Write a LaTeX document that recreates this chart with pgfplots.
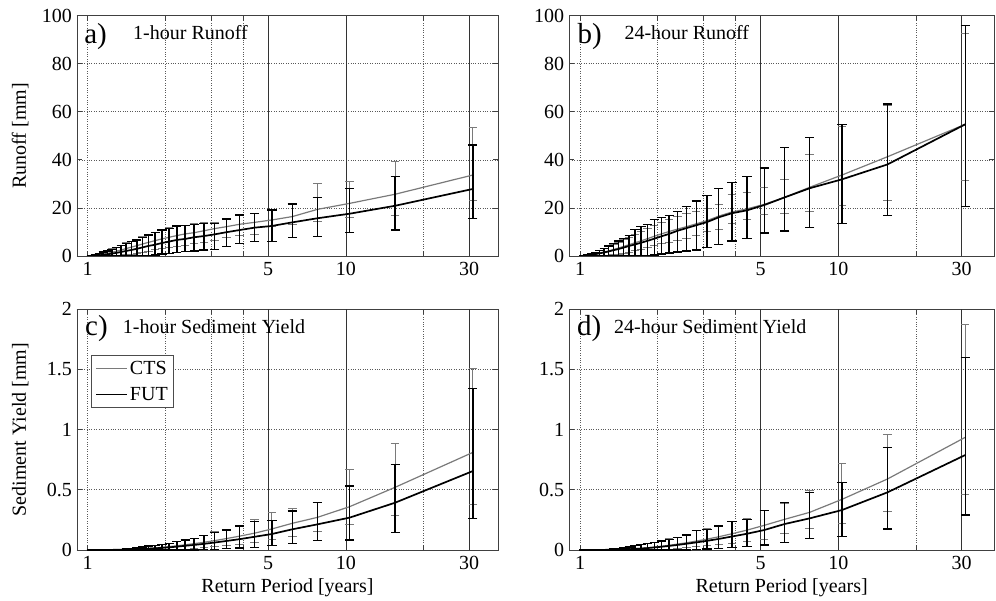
\documentclass[border=0pt]{standalone}
\usepackage{fontspec}
\setmainfont{Liberation Serif}
\usepackage{pgfplots}
\pgfplotsset{compat=1.18}
\usepackage{pgfplotstable}

% columns: x (return period), y (value), lo, hi (error bar limits)
\pgfplotstableread{
x y lo hi
31 33.7 23.0 53.4
15.5 25.7 16.8 39.5
10.333 21.9 15.9 30.8
7.75 19.4 14.3 30.0
6.2 16.4 12.9 21.5
5.167 15.0 12.2 19.4
4.429 14.0 9.0 17.8
3.875 13.2 8.5 17.3
3.444 12.2 7.5 15.8
3.1 11.4 6.5 14.0
2.818 10.5 5.5 13.8
2.583 9.7 5.0 13.4
2.385 9.2 4.5 12.8
2.214 8.5 4.0 12.6
2.067 7.8 3.5 11.7
1.938 7.1 3.0 11.0
1.824 6.4 2.5 9.9
1.722 5.7 2.0 8.9
1.632 5.0 1.5 8.0
1.55 4.3 1.0 7.0
1.476 3.7 0.8 6.2
1.409 3.1 0.5 5.5
1.348 2.5 0.3 4.5
1.292 2.0 0.2 3.7
1.24 1.5 0.1 3.0
1.192 1.1 0 2.3
1.148 0.8 0 1.7
1.107 0.5 0 1.2
1.069 0.3 0 0.8
1.033 0.1 0 0.4
}\aCTS
\pgfplotstableread{
x y lo hi
31 27.9 15.7 46.2
15.5 20.9 10.8 33.2
10.333 17.6 9.7 28.0
7.75 15.7 8.2 24.4
6.2 14.0 7.6 21.6
5.167 12.5 6.0 19.2
4.429 11.8 6.0 17.6
3.875 10.8 5.1 17.1
3.444 9.9 3.9 15.4
3.1 9.0 2.8 13.6
2.818 8.3 2.5 13.6
2.583 7.8 2.1 13.2
2.385 7.1 1.8 12.6
2.214 6.7 1.4 12.5
2.067 6.0 1.1 11.5
1.938 5.4 0.8 10.8
1.824 4.7 0.4 9.7
1.722 4.2 0.2 8.7
1.632 3.6 0 7.8
1.55 3.0 0 6.7
1.476 2.5 0 6.0
1.409 2.1 0 5.3
1.348 1.7 0 4.3
1.292 1.3 0 3.5
1.24 1.0 0 2.8
1.192 0.7 0 2.1
1.148 0.5 0 1.6
1.107 0.3 0 1.1
1.069 0.2 0 0.7
1.033 0.1 0 0.3
}\aFUT
\pgfplotstableread{
x y lo hi
31 54.8 31.3 92.4
15.5 41.3 23.0 62.8
10.333 33.7 21.2 53.8
7.75 28.6 18.4 42.3
6.2 24.4 17.5 31.9
5.167 21.5 17.2 28.4
4.429 19.6 15.3 26.6
3.875 18.3 13.6 25.7
3.444 16.6 11.1 21.6
3.1 14.7 10.0 19.8
2.818 13.4 8.5 18.7
2.583 12.2 7.4 17.5
2.385 11.2 6.5 16.5
2.214 10.2 5.8 15.0
2.067 9.2 5.0 13.8
1.938 8.2 4.2 12.6
1.824 7.2 3.5 11.4
1.722 6.3 2.8 10.2
1.632 5.5 2.2 9.0
1.55 4.7 1.6 7.8
1.476 4.0 1.2 6.8
1.409 3.3 0.8 5.8
1.348 2.7 0.5 4.8
1.292 2.1 0.3 3.9
1.24 1.6 0.2 3.0
1.192 1.2 0.1 2.2
1.148 0.8 0 1.6
1.107 0.5 0 1.0
1.069 0.3 0 0.6
1.033 0.1 0 0.3
}\bCTS
\pgfplotstableread{
x y lo hi
31 54.8 20.5 95.8
15.5 38.1 16.8 63.3
10.333 31.9 13.5 54.8
7.75 28.2 11.8 49.2
6.2 24.4 10.4 45.2
5.167 21.2 9.6 36.6
4.429 19.0 7.4 33.2
3.875 17.8 6.2 30.5
3.444 16.1 4.8 28.2
3.1 14.1 3.6 25.2
2.818 12.8 2.5 22.9
2.583 11.6 2.0 20.5
2.385 10.5 1.6 18.5
2.214 9.2 1.2 16.9
2.067 8.2 0.8 16.1
1.938 7.2 0.4 15.3
1.824 6.3 0.1 13.2
1.722 5.5 0 12.2
1.632 4.8 0 11.1
1.55 4.2 0 8.5
1.476 3.5 0 7.4
1.409 2.9 0 6.2
1.348 2.4 0 5.3
1.292 1.9 0 4.2
1.24 1.5 0 3.2
1.192 1.1 0 2.2
1.148 0.8 0 1.5
1.107 0.5 0 1.0
1.069 0.3 0 0.6
1.033 0.1 0 0.3
}\bFUT
\pgfplotstableread{
x y lo hi
31 0.811 0.380 1.504
15.5 0.521 0.285 0.886
10.333 0.360 0.208 0.670
7.75 0.271 0.152 0.396
6.2 0.222 0.111 0.346
5.167 0.175 0.089 0.310
4.429 0.140 0.060 0.250
3.875 0.115 0.045 0.205
3.444 0.095 0.035 0.170
3.1 0.078 0.025 0.150
2.818 0.064 0.018 0.122
2.583 0.053 0.012 0.098
2.385 0.043 0.008 0.086
2.214 0.035 0.005 0.071
2.067 0.028 0.003 0.057
1.938 0.022 0 0.048
1.824 0.017 0 0.040
1.722 0.013 0 0.034
1.632 0.010 0 0.027
1.55 0.008 0 0.019
1.476 0.006 0 0.014
1.409 0.004 0 0.010
1.348 0.003 0 0.007
1.292 0.002 0 0.005
1.24 0.001 0 0.003
1.192 0.001 0 0.002
1.148 0.0005 0 0.001
1.107 0.0003 0 0.001
1.069 0.0002 0 0.0005
1.033 0.0001 0 0.0002
}\cCTS
\pgfplotstableread{
x y lo hi
31 0.656 0.263 1.343
15.5 0.393 0.144 0.712
10.333 0.269 0.083 0.532
7.75 0.213 0.080 0.396
6.2 0.172 0.055 0.324
5.167 0.133 0.036 0.247
4.429 0.110 0.022 0.235
3.875 0.090 0.015 0.200
3.444 0.075 0.010 0.166
3.1 0.062 0.006 0.147
2.818 0.051 0.004 0.119
2.583 0.042 0 0.094
2.385 0.035 0 0.083
2.214 0.028 0 0.069
2.067 0.022 0 0.055
1.938 0.018 0 0.047
1.824 0.014 0 0.039
1.722 0.011 0 0.033
1.632 0.008 0 0.026
1.55 0.006 0 0.018
1.476 0.005 0 0.013
1.409 0.004 0 0.009
1.348 0.003 0 0.006
1.292 0.002 0 0.004
1.24 0.001 0 0.003
1.192 0.001 0 0.002
1.148 0.0005 0 0.001
1.107 0.0003 0 0.001
1.069 0.0002 0 0.0005
1.033 0.0001 0 0.0002
}\cFUT
\pgfplotstableread{
x y lo hi
31 0.936 0.463 1.870
15.5 0.590 0.316 0.956
10.333 0.421 0.222 0.715
7.75 0.313 0.180 0.493
6.2 0.255 0.139 0.388
5.167 0.205 0.089 0.332
4.429 0.165 0.070 0.260
3.875 0.135 0.055 0.240
3.444 0.110 0.045 0.205
3.1 0.090 0.035 0.178
2.818 0.074 0.025 0.165
2.583 0.060 0.018 0.130
2.385 0.049 0.012 0.106
2.214 0.039 0.008 0.092
2.067 0.031 0.005 0.078
1.938 0.024 0.003 0.064
1.824 0.018 0 0.057
1.722 0.014 0 0.049
1.632 0.010 0 0.038
1.55 0.008 0 0.027
1.476 0.006 0 0.018
1.409 0.004 0 0.013
1.348 0.003 0 0.009
1.292 0.002 0 0.006
1.24 0.001 0 0.004
1.192 0.001 0 0.002
1.148 0.0005 0 0.001
1.107 0.0003 0 0.001
1.069 0.0002 0 0.0005
1.033 0.0001 0 0.0002
}\dCTS
\pgfplotstableread{
x y lo hi
31 0.789 0.291 1.598
15.5 0.479 0.174 0.850
10.333 0.332 0.111 0.559
7.75 0.263 0.094 0.476
6.2 0.216 0.061 0.393
5.167 0.166 0.042 0.327
4.429 0.135 0.030 0.255
3.875 0.112 0.020 0.235
3.444 0.092 0.012 0.199
3.1 0.076 0.008 0.172
2.818 0.063 0.005 0.160
2.583 0.052 0 0.125
2.385 0.042 0 0.102
2.214 0.034 0 0.089
2.067 0.027 0 0.075
1.938 0.021 0 0.061
1.824 0.016 0 0.055
1.722 0.012 0 0.047
1.632 0.009 0 0.036
1.55 0.007 0 0.025
1.476 0.005 0 0.017
1.409 0.004 0 0.012
1.348 0.003 0 0.008
1.292 0.002 0 0.005
1.24 0.001 0 0.003
1.192 0.001 0 0.002
1.148 0.0005 0 0.001
1.107 0.0003 0 0.001
1.069 0.0002 0 0.0005
1.033 0.0001 0 0.0002
}\dFUT

\newcommand{\fnt}{\fontsize{20}{24}\selectfont}
\newcommand{\bigfnt}{\fontsize{29}{32}\selectfont}

\pgfplotsset{
 every axis/.append style={
  scale only axis,
  xmin=0.909,
  xtick={1,2,3,4,5,10,20,30},
  xticklabels={1,,,,5,10,,30},
  grid=major,
  major grid style={dotted, black!65, line width=0.7pt},
  tick align=inside,
  major tick length=5pt,
  axis line style={black!75, line width=0.8pt},
  every tick/.style={black!75, line width=0.8pt},
  tick label style={font=\fnt, inner sep=0pt},
  xticklabel style={yshift=-6pt},
  yticklabel style={xshift=-5pt},
  label style={font=\fnt},
 },
 ctsS/.style={black!52, line width=1.2pt, mark=none,
   error bars/.cd, y dir=both, y explicit,
   error bar style={black!52, line width=1.0pt},
   error mark options={rotate=90, black!52, mark size=4.2pt, line width=1.0pt}},
 futS/.style={black, line width=1.7pt, mark=none,
   error bars/.cd, y dir=both, y explicit,
   error bar style={black, line width=1.4pt},
   error mark options={rotate=90, black, mark size=4.6pt, line width=1.4pt}},
 vlineS/.style={black!80, line width=0.8pt, forget plot},
}

\begin{document}
\begin{tikzpicture}
\fill[white] (0pt,0pt) rectangle (996pt,600pt);
\useasboundingbox (0pt,0pt) rectangle (996pt,600pt);

% a)
\begin{semilogxaxis}[at={(77pt,344pt)}, anchor=south west,
  width=421pt, height=240.3pt, xmax=38.8,
  ymin=0, ymax=100, ytick={0,20,40,60,80,100}, yticklabels={0,20,40,60,80,100},
  ylabel={Runoff [mm]}, ylabel style={at={(axis description cs:-0.135,0.5)}, anchor=center}]
\addplot[vlineS] coordinates {(5,0) (5,100)};
\addplot[vlineS] coordinates {(10,0) (10,100)};
\addplot[vlineS] coordinates {(30,0) (30,100)};
\addplot[ctsS] table[x=x, y=y, y error plus expr=\thisrow{hi}-\thisrow{y}, y error minus expr=\thisrow{y}-\thisrow{lo}] {\aCTS};
\addplot[futS] table[x=x, y=y, y error plus expr=\thisrow{hi}-\thisrow{y}, y error minus expr=\thisrow{y}-\thisrow{lo}] {\aFUT};
\node[anchor=base west, font=\bigfnt, inner sep=0pt] at (rel axis cs:0.017,0.886) {a)};
\node[anchor=base west, font=\fnt, inner sep=0pt] at (rel axis cs:0.133,0.899) {1-hour Runoff};
\end{semilogxaxis}

% b)
\begin{semilogxaxis}[at={(569.3pt,344pt)}, anchor=south west,
  width=424.7pt, height=240.3pt, xmax=40.07,
  ymin=0, ymax=100, ytick={0,20,40,60,80,100}, yticklabels={0,20,40,60,80,100}]
\addplot[vlineS] coordinates {(5,0) (5,100)};
\addplot[vlineS] coordinates {(10,0) (10,100)};
\addplot[vlineS] coordinates {(30,0) (30,100)};
\addplot[ctsS] table[x=x, y=y, y error plus expr=\thisrow{hi}-\thisrow{y}, y error minus expr=\thisrow{y}-\thisrow{lo}] {\bCTS};
\addplot[futS] table[x=x, y=y, y error plus expr=\thisrow{hi}-\thisrow{y}, y error minus expr=\thisrow{y}-\thisrow{lo}] {\bFUT};
\node[anchor=base west, font=\bigfnt, inner sep=0pt] at (rel axis cs:0.019,0.886) {b)};
\node[anchor=base west, font=\fnt, inner sep=0pt] at (rel axis cs:0.1295,0.899) {24-hour Runoff};
\end{semilogxaxis}

% c)
\begin{semilogxaxis}[at={(77pt,50pt)}, anchor=south west,
  width=421pt, height=240.7pt, xmax=38.8,
  ymin=0, ymax=2, ytick={0,0.5,1,1.5,2}, yticklabels={0,0.5,1,1.5,2},
  ylabel={Sediment Yield [mm]}, ylabel style={at={(axis description cs:-0.135,0.5)}, anchor=center},
  xlabel={Return Period [years]}, xlabel style={at={(axis description cs:0.5,-0.1774)}, anchor=base},
  legend style={at={(0.033,0.81)}, anchor=north west, draw=black!70, line width=0.8pt,
    font=\fnt, nodes={font=\fnt, inner xsep=2pt, inner ysep=1pt},
    inner xsep=4pt, inner ysep=5pt, row sep=9pt, cells={anchor=west}},
  legend image code/.code={\draw[#1] (0pt,0pt) -- (31pt,0pt);}]
\addplot[vlineS] coordinates {(5,0) (5,2)};
\addplot[vlineS] coordinates {(10,0) (10,2)};
\addplot[vlineS] coordinates {(30,0) (30,2)};
\addplot[ctsS] table[x=x, y=y, y error plus expr=\thisrow{hi}-\thisrow{y}, y error minus expr=\thisrow{y}-\thisrow{lo}] {\cCTS};
\addlegendentry{CTS\hspace{18pt}}
\addplot[futS] table[x=x, y=y, y error plus expr=\thisrow{hi}-\thisrow{y}, y error minus expr=\thisrow{y}-\thisrow{lo}] {\cFUT};
\addlegendentry{FUT\hspace{18pt}}
\node[anchor=base west, font=\bigfnt, inner sep=0pt] at (rel axis cs:0.019,0.893) {c)};
\node[anchor=base west, font=\fnt, inner sep=0pt] at (rel axis cs:0.1085,0.900) {1-hour Sediment Yield};
\end{semilogxaxis}

% d)
\begin{semilogxaxis}[at={(569.3pt,50pt)}, anchor=south west,
  width=424.7pt, height=240.7pt, xmax=40.07,
  ymin=0, ymax=2, ytick={0,0.5,1,1.5,2}, yticklabels={0,0.5,1,1.5,2},
  xlabel={Return Period [years]}, xlabel style={at={(axis description cs:0.5,-0.1774)}, anchor=base}]
\addplot[vlineS] coordinates {(5,0) (5,2)};
\addplot[vlineS] coordinates {(10,0) (10,2)};
\addplot[vlineS] coordinates {(30,0) (30,2)};
\addplot[ctsS] table[x=x, y=y, y error plus expr=\thisrow{hi}-\thisrow{y}, y error minus expr=\thisrow{y}-\thisrow{lo}] {\dCTS};
\addplot[futS] table[x=x, y=y, y error plus expr=\thisrow{hi}-\thisrow{y}, y error minus expr=\thisrow{y}-\thisrow{lo}] {\dFUT};
\node[anchor=base west, font=\bigfnt, inner sep=0pt] at (rel axis cs:0.018,0.893) {d)};
\node[anchor=base west, font=\fnt, inner sep=0pt] at (rel axis cs:0.105,0.900) {24-hour Sediment Yield};
\end{semilogxaxis}
\end{tikzpicture}
\end{document}
